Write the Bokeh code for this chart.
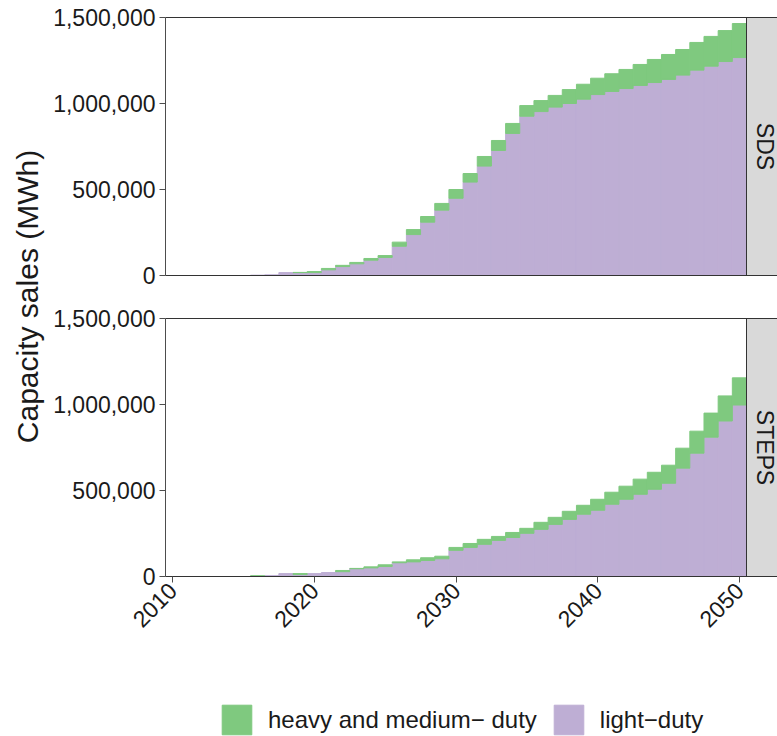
import math
from bokeh.plotting import figure
from bokeh.layouts import row, column
from bokeh.models import (ColumnDataSource, Range1d, FixedTicker, NumeralTickFormatter,
                          Legend, LegendItem, LinearAxis)
from bokeh.core.properties import value
from bokeh.embed import file_html
from bokeh.resources import INLINE

# ---------------- data ----------------
years = list(range(2010, 2051))

sds_light = [0, 0, 0, 0, 0, 0, 2000, 4000, 17000, 17000,
             17000, 33000, 52000, 68000, 89000, 105000, 170000, 238000, 310000, 380000,
             449000, 543000, 636000, 727000, 826000, 926000, 953000, 979000, 1000000, 1025000,
             1052000, 1070000, 1087000, 1105000, 1122000, 1140000, 1165000, 1194000, 1217000, 1244000,
             1267000]
sds_heavy = [0, 0, 0, 0, 0, 0, 0, 0, 0, 1000,
             6000, 8000, 7000, 8000, 10000, 11000, 24000, 29000, 33000, 39000,
             51000, 50000, 56000, 58000, 58000, 62000, 64000, 68000, 81000, 87000,
             95000, 103000, 111000, 122000, 134000, 145000, 149000, 161000, 173000, 180000,
             198000]

steps_light = [0, 0, 0, 0, 0, 0, 0, 5000, 17000, 11000,
               17000, 23000, 28000, 45000, 50000, 58000, 80000, 85000, 93000, 103000,
               152000, 169000, 187000, 210000, 227000, 251000, 274000, 303000, 332000, 362000,
               385000, 420000, 449000, 478000, 507000, 542000, 630000, 717000, 810000, 904000,
               997000]
steps_heavy = [0, 0, 0, 0, 0, 0, 5000, 0, 0, 6000,
               0, 0, 7000, 2000, 6000, 10000, 5000, 12000, 16000, 15000,
               17000, 23000, 29000, 23000, 29000, 29000, 41000, 41000, 47000, 52000,
               64000, 70000, 76000, 88000, 99000, 105000, 116000, 128000, 140000, 146000,
               158000]

scenarios = ["SDS", "STEPS"]
series_labels = ["heavy and medium\u2212 duty", "light\u2212duty"]
y_ticks = [0, 500000, 1000000, 1500000]
x_ticks = [2010, 2020, 2030, 2040, 2050]
y_title = "Capacity sales (MWh)"

# ---------------- style ----------------
GREEN = "#7FC97F"
PURPLE = "#BEAED4"
FONT = "Liberation Sans"
TXT = "#1A1A1A"
AXC = "#4D4D4D"
BORDER = "#333333"
DATA_W = 581          # px of the data area
STRIP_W = 31          # px of the facet strip visible in the window
FH = 258
LEFT = 120
H = 736
X0, X1 = years[0] - 0.5, years[-1] + 0.5
PX_PER_YEAR = DATA_W / (X1 - X0)
Y_MAX = y_ticks[-1]


def no_tick_axis(ax):
    ax.ticker = FixedTicker(ticks=[])
    ax.major_tick_out = 0
    ax.major_tick_in = 0
    ax.minor_tick_out = 0
    ax.minor_tick_in = 0
    ax.major_label_text_font_size = "0px"
    ax.axis_line_color = BORDER
    ax.axis_line_width = 1


def panel(light, heavy, label, show_x, top, bottom):
    total = [a + b for a, b in zip(light, heavy)]
    src = ColumnDataSource(dict(year=years, light=light, heavy=heavy, total=total,
                                zero=[0] * len(years),
                                hal=[1.0 if h > 0 else 0.0 for h in heavy],
                                lal=[1.0 if v > 0 else 0.0 for v in light]))
    p = figure(frame_width=DATA_W + STRIP_W, frame_height=FH,
               x_range=Range1d(X0, X1 + STRIP_W / PX_PER_YEAR), y_range=Range1d(0, Y_MAX),
               output_backend="svg", toolbar_location=None,
               min_border_left=LEFT, min_border_right=0,
               min_border_top=top, min_border_bottom=bottom)
    p.extra_x_ranges = {"strip": Range1d(-DATA_W, STRIP_W)}
    p.vbar(x="year", bottom="zero", top="light", width=1.0, source=src,
           fill_color=PURPLE, line_color=PURPLE, line_width=1, line_alpha="lal")
    p.vbar(x="year", bottom="light", top="total", width=1.0, source=src,
           fill_color=GREEN, line_color=GREEN, line_width=1, line_alpha="hal")
    # facet strip
    p.quad(left=[0], right=[STRIP_W + 10], bottom=[0], top=[Y_MAX], x_range_name="strip",
           fill_color="#D9D9D9", line_color=BORDER, line_width=1)
    p.text(x=[18], y=[Y_MAX / 2], text=[label], x_range_name="strip", angle=-math.pi / 2,
           text_align="center", text_baseline="middle",
           text_font=value(FONT), text_font_size="23px", text_color=TXT)

    p.xgrid.visible = False
    p.ygrid.visible = False
    p.outline_line_color = None
    p.background_fill_color = "white"
    p.border_fill_color = "white"

    xa = p.below[0]
    ya = p.left[0]

    top_axis = LinearAxis()
    no_tick_axis(top_axis)
    p.add_layout(top_axis, "above")

    ya.ticker = FixedTicker(ticks=y_ticks)
    ya.formatter = NumeralTickFormatter(format="0,0")
    ya.major_label_text_font = FONT
    ya.major_label_text_font_size = "23px"
    ya.major_label_text_color = TXT
    ya.major_tick_out = 6
    ya.major_tick_in = 0
    ya.minor_tick_out = 0
    ya.minor_tick_in = 0
    ya.axis_line_color = AXC
    ya.major_tick_line_color = AXC
    ya.major_label_standoff = 4

    if show_x:
        xa.ticker = FixedTicker(ticks=x_ticks)
        xa.major_label_text_font = FONT
        xa.major_label_text_font_size = "23px"
        xa.major_label_text_color = TXT
        xa.major_label_orientation = math.pi / 4
        xa.major_tick_out = 6
        xa.major_tick_in = 0
        xa.minor_tick_out = 0
        xa.minor_tick_in = 0
        xa.axis_line_color = BORDER
        xa.major_tick_line_color = AXC
        xa.major_label_standoff = 4
    else:
        no_tick_axis(xa)
    return p, src


P2_BOTTOM = 70
p1, src1 = panel(sds_light, sds_heavy, scenarios[0], False, 17, 22)
p2, src2 = panel(steps_light, steps_heavy, scenarios[1], True, 21, P2_BOTTOM)

# legend strip at the bottom (its swatch renderers use the data, out of its view)
LW = DATA_W + STRIP_W + LEFT
LH = H - (17 + FH + 22) - (21 + FH + P2_BOTTOM)
lg = figure(frame_width=LW, frame_height=LH, x_range=Range1d(0, 1), y_range=Range1d(0, 1),
            output_backend="svg", toolbar_location=None,
            x_axis_location=None, y_axis_location=None,
            min_border_left=0, min_border_right=0, min_border_top=0, min_border_bottom=0)
lg.xgrid.visible = False
lg.ygrid.visible = False
lg.outline_line_color = None
sw_heavy = lg.vbar(x="year", top="total", width=1, source=src2, fill_color=GREEN, line_color=GREEN)
sw_light = lg.vbar(x="year", top="light", width=1, source=src2, fill_color=PURPLE, line_color=PURPLE)
legend = Legend(items=[LegendItem(label=series_labels[0], renderers=[sw_heavy]),
                       LegendItem(label=series_labels[1], renderers=[sw_light])],
                orientation="horizontal", location=(173, -2),
                glyph_width=37, glyph_height=37, label_standoff=13, spacing=13,
                padding=0, margin=0, border_line_color=None, background_fill_alpha=0,
                label_text_font=FONT, label_text_font_size="24px", label_text_color=TXT)
lg.add_layout(legend, "center")

t = figure(frame_width=45, frame_height=H, x_range=Range1d(0, 45), y_range=Range1d(0, H),
           output_backend="svg", toolbar_location=None,
           x_axis_location=None, y_axis_location=None,
           min_border_left=0, min_border_right=0, min_border_top=0, min_border_bottom=0)
t.xgrid.visible = False
t.ygrid.visible = False
t.outline_line_color = None
t.text(x=[27], y=[H - 296], text=[y_title], angle=math.pi / 2,
       text_align="center", text_baseline="middle",
       text_font=value(FONT), text_font_size="30px", text_color=TXT)

layout = row(t, column(p1, p2, lg))

open("out.html", "w").write(file_html(layout, INLINE))
